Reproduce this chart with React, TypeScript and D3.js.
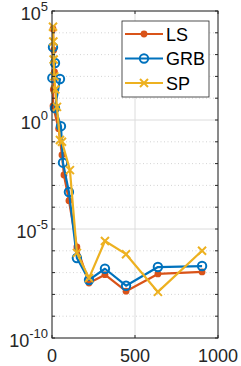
import React from "react";
import * as d3 from "d3";

// x = evaluations, y = error
const lsX = [6, 10, 15, 8, 6, 40, 60, 72, 102, 150, 223, 319, 446, 638, 904];
const lsY = [1.5e4, 1.6e3, 1.6e2, 2.5e1, 4.4, 4e-1, 2.5e-2, 3e-3, 2e-4, 1.5e-6, 3.3e-8, 8e-8, 1.4e-8, 8.7e-8, 1.07e-7];

const grbX = [6, 18, 2, 48, 18, 54, 66, 102, 150, 223, 319, 446, 638, 904];
const grbY = [2.2e3, 4.1e2, 8.5e1, 7.6e1, 3.5, 5.2e-1, 1.1e-2, 5e-4, 4.7e-7, 4.6e-8, 1.5e-7, 2.5e-8, 1.8e-7, 2e-7];

const spX = [6, 8, 10, 14, 20, 30, 48, 60, 108, 150, 223, 319, 446, 638, 904];
const spY = [1.9e4, 4e3, 6e2, 1e2, 2.5e1, 4, 1.2e-1, 1e-1, 5e-3, 8e-7, 5.6e-8, 2.8e-6, 7e-7, 1.3e-8, 1e-6];

const xTicks = [0, 500, 1000];
const yMajor = [5, 0, -5, -10];
const yDecades = d3.range(-10, 6);

const series = [
  { name: "LS", xs: lsX, ys: lsY, color: "#D95319", marker: "dot" },
  { name: "GRB", xs: grbX, ys: grbY, color: "#0072BD", marker: "circle" },
  { name: "SP", xs: spX, ys: spY, color: "#EDB120", marker: "cross" },
];

const W = 241, H = 366;
const m = { left: 52, right: 23, top: 11, bottom: 28 };
const font = "'Liberation Sans', Arial, sans-serif";

function Marker({ kind, x, y, color }: { kind: string; x: number; y: number; color: string }) {
  if (kind === "dot") return <circle cx={x} cy={y} r={3.4} fill={color} />;
  if (kind === "circle")
    return <circle cx={x} cy={y} r={4.2} fill="none" stroke={color} strokeWidth={2} />;
  const s = 4;
  return (
    <path d={`M${x - s},${y - s}L${x + s},${y + s}M${x - s},${y + s}L${x + s},${y - s}`}
      stroke={color} strokeWidth={2} />
  );
}

export default function App() {
  const x = d3.scaleLinear().domain([0, 1000]).range([m.left, W - m.right]);
  const y = d3.scaleLog().domain([1e-10, 1e5]).range([H - m.bottom, m.top]);
  const line = d3.line<[number, number]>().x(d => x(d[0])).y(d => y(d[1]));
  const x0 = x(0), x1 = x(1000), y0 = y(1e-10), y1 = y(1e5);
  const axis = "#262626";

  return (
    <svg width={W} height={H} style={{ position: "absolute", left: 0, top: 0 }} fontFamily={font}>
      <rect width={W} height={H} fill="#fff" />
      {/* grid */}
      {yDecades.map(e => {
        const yy = y(Math.pow(10, e));
        const major = yMajor.includes(e);
        return (
          <line key={"g" + e} x1={x0} x2={x1} y1={yy} y2={yy}
            stroke={major ? "#dcdcdc" : "#c8c8c8"} strokeWidth={major ? 1 : 0.8}
            strokeDasharray={major ? undefined : "1,2.5"} />
        );
      })}
      {xTicks.map(t => (
        <line key={"gx" + t} x1={x(t)} x2={x(t)} y1={y0} y2={y1} stroke="#dcdcdc" />
      ))}
      {/* series */}
      {series.map(s => {
        const pts = s.xs.map((v, i) => [v, s.ys[i]] as [number, number]);
        return (
          <g key={s.name}>
            <path d={line(pts) || ""} fill="none" stroke={s.color} strokeWidth={2.2} strokeLinejoin="round" />
            {pts.map((p, i) => (
              <Marker key={i} kind={s.marker} x={x(p[0])} y={y(p[1])} color={s.color} />
            ))}
          </g>
        );
      })}
      {/* box and ticks */}
      <rect x={x0} y={y1} width={x1 - x0} height={y0 - y1} fill="none" stroke={axis} strokeWidth={1} />
      {yDecades.map(e => {
        const yy = y(Math.pow(10, e));
        return (
          <g key={"t" + e} stroke={axis}>
            <line x1={x0} x2={x0 + 3} y1={yy} y2={yy} />
            <line x1={x1} x2={x1 - 3} y1={yy} y2={yy} />
          </g>
        );
      })}
      {xTicks.map(t => (
        <g key={"tx" + t} stroke={axis}>
          <line x1={x(t)} x2={x(t)} y1={y0} y2={y0 - 3} />
          <line x1={x(t)} x2={x(t)} y1={y1} y2={y1 + 3} />
        </g>
      ))}
      {yMajor.map(e => (
        <text key={"yl" + e} x={x0 - 4} y={y(Math.pow(10, e)) + 9} textAnchor="end" fontSize={18} fill={axis}>
          10<tspan fontSize={13} dy={-9}>{e}</tspan>
        </text>
      ))}
      {xTicks.map(t => (
        <text key={"xl" + t} x={x(t)} y={y0 + 24} textAnchor="middle" fontSize={18} fill={axis}>
          {t}
        </text>
      ))}
      {/* legend */}
      <rect x={122} y={21} width={87} height={76} fill="#fff" stroke={axis} strokeWidth={0.8} />
      {series.map((s, i) => {
        const ly = 34 + i * 24.5;
        return (
          <g key={"lg" + s.name}>
            <line x1={125} x2={163} y1={ly} y2={ly} stroke={s.color} strokeWidth={2} />
            <Marker kind={s.marker} x={144} y={ly} color={s.color} />
            <text x={166} y={ly + 6.5} fontSize={18} fill="#000">{s.name}</text>
          </g>
        );
      })}
    </svg>
  );
}
